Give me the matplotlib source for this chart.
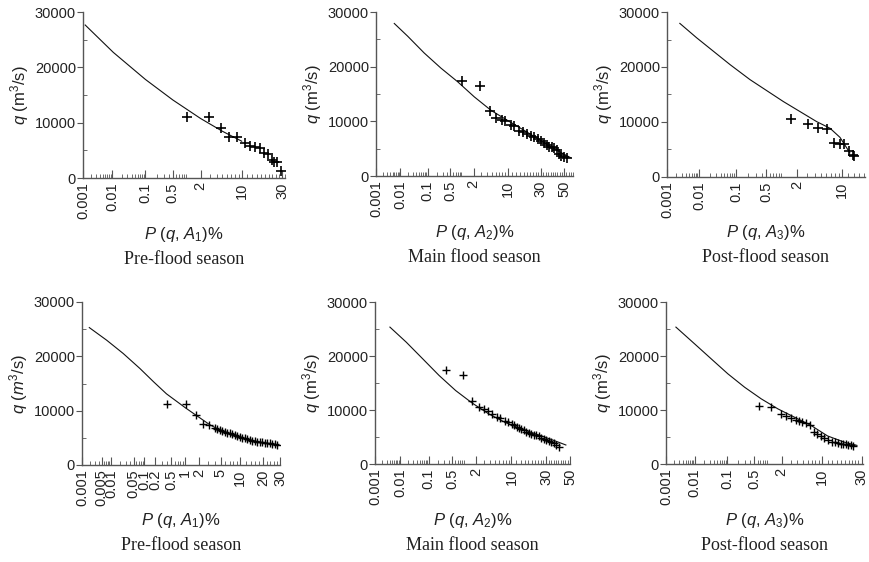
from statistics import NormalDist
import numpy as np
import matplotlib
matplotlib.use("Agg")
from matplotlib import pyplot as plt

plt.rcParams['font.family'] = ['Liberation Sans', 'DejaVu Sans']
plt.rcParams['mathtext.fontset'] = 'custom'
plt.rcParams['mathtext.rm'] = 'Liberation Sans'
plt.rcParams['mathtext.it'] = 'Liberation Sans:italic'

# ---- data (exceedance probability %, discharge m3/s) ----
# top row
pre1_pts_p = [1.03, 2.93, 4.68, 6.49, 8.61, 11.1, 13.0, 15.1, 17.4, 19.6, 21.7, 23.6, 25.2, 26.6, 29.4]
pre1_pts_q = [11080, 11080, 8980, 7360, 7360, 6380, 5780, 5660, 5370, 4570, 4340, 3250, 2950, 2950, 1320]
pre1_fit_p = [0.0012, 0.011, 0.1, 0.5, 2, 5, 10]
pre1_fit_q = [27650, 22700, 17800, 14100, 10750, 8450, 6650]

main1_pts_p = [1.03, 2.83, 4.65, 6.13, 7.86, 9.13, 11.4, 12.96, 15.5, 17.4, 20.0, 22.7, 25.0, 27.5,
               30.0, 32.7, 35.0, 37.0, 39.0, 41.3, 43.6, 45.1, 47.2, 50.2, 52.7]
main1_pts_q = [17430, 16500, 11830, 10660, 10290, 9980, 9420, 9060, 8320, 8000, 7700, 7390, 7080, 6780,
               6470, 5970, 5670, 5360, 5230, 5120, 4750, 4010, 3700, 3510, 3380]
main1_fit_p = [0.0059, 0.0196, 0.076, 0.263, 0.79, 2.09, 4.88, 10.0, 18.4, 30, 44.2, 55.6]
main1_fit_q = [27900, 25560, 22490, 19720, 17240, 14470, 12010, 10160, 8320, 6470, 4620, 3380]

post1_pts_p = [1.55, 3.09, 4.57, 6.13, 7.86, 9.37, 10.7, 12.2, 13.5, 14.1]
post1_pts_q = [10550, 9580, 8960, 8720, 6220, 5980, 5980, 4700, 3970, 3790]
post1_fit_p = [0.0026, 0.0085, 0.0255, 0.071, 0.218, 1.12, 4.32, 6.85, 9.37, 12.5]
post1_fit_q = [27930, 25310, 22870, 20430, 17700, 13720, 10060, 8850, 7200, 4390]

# bottom row
pre2_pts_p = [0.383, 1.05, 1.73, 2.41, 3.12, 3.96, 4.4, 4.84, 5.3, 5.86, 6.4, 7.04, 7.7, 8.41, 9.2, 9.96,
              10.8, 11.7, 12.7, 13.7, 14.7, 15.8, 17.0, 18.2, 19.5, 20.8, 22.2, 23.6, 25.1, 26.6, 28.3]
pre2_pts_q = [11200, 11200, 9190, 7470, 7350, 6740, 6600, 6430, 6280, 6120, 5980, 5820, 5660, 5510, 5350, 5200,
              5050, 4900, 4750, 4590, 4500, 4410, 4320, 4230, 4160, 4100, 4040, 3980, 3920, 3860, 3670]
pre2_fit_p = [0.00184, 0.0073, 0.0245, 0.076, 0.18, 0.38, 1.05, 1.78, 3.22, 5.49, 8.9, 13.7, 19.9, 27.7]
pre2_fit_q = [25290, 22960, 20520, 17760, 15300, 13100, 10500, 9100, 7400, 6120, 5200, 4590, 4100, 3670]

main2_pts_p = [0.344, 0.975, 1.61, 2.37, 2.94, 3.63, 4.36, 5.46, 6.31, 7.76, 8.86, 10.3, 11.2, 12.1, 13.2,
               14.4, 15.7, 17.0, 18.4, 19.9, 21.4, 23.0, 24.7, 26.4, 28.2, 30.1, 32.0, 33.9, 36.0, 38.0, 40.8]
main2_pts_q = [17440, 16570, 11740, 10630, 10200, 9760, 9270, 8770, 8530, 8030, 7720, 7420, 7150, 6920, 6700,
               6490, 6240, 5990, 5780, 5570, 5400, 5300, 5150, 4820, 4650, 4450, 4250, 4010, 3800, 3580, 3210]
main2_fit_p = [0.0041, 0.0171, 0.064, 0.211, 0.62, 1.61, 3.74, 7.76, 14.4, 24.1, 36.6, 46.4]
main2_fit_q = [25350, 22560, 19470, 16380, 13600, 11300, 9300, 7720, 6490, 5440, 4330, 3520]

post2_pts_p = [0.635, 1.22, 1.93, 2.49, 3.10, 3.74, 4.29, 4.90, 5.73, 6.51, 7.64, 8.58, 9.65, 10.8, 12.0,
               13.6, 15.1, 16.6, 17.8, 19.1, 20.5, 21.9, 23.3, 24.8]
post2_pts_q = [10690, 10500, 9270, 8830, 8530, 8160, 8030, 7850, 7530, 7230, 5860, 5570, 5250, 4820, 4450,
               4140, 4010, 3820, 3760, 3710, 3640, 3580, 3500, 3390]
post2_fit_p = [0.0023, 0.01, 0.0336, 0.103, 0.289, 0.73, 1.69, 3.58, 6.9, 12, 20, 27]
post2_fit_q = [25350, 22260, 19480, 16700, 14210, 12060, 10200, 8640, 7100, 5200, 4000, 3450]

ticks_std = [0.001, 0.01, 0.1, 0.5, 2, 10, 30]
ticks_main = [0.001, 0.01, 0.1, 0.5, 2, 10, 30, 50]
ticks_post = [0.001, 0.01, 0.1, 0.5, 2, 10]
ticks_dense = [0.001, 0.005, 0.01, 0.05, 0.1, 0.2, 0.5, 1, 2, 5, 10, 20, 30]

_nd = NormalDist()
_ppf = np.vectorize(_nd.inv_cdf, otypes=[float])
_cdf = np.vectorize(_nd.cdf, otypes=[float])


def prob_forward(p):
    p = np.clip(np.asarray(p, dtype=float), 1e-7, 100 - 1e-7)
    return _ppf(p / 100.0)


def prob_inverse(z):
    return _cdf(np.asarray(z, dtype=float)) * 100.0


def minor_ticks(xmax):
    vals = []
    for dec in (0.001, 0.01, 0.1):
        vals += [k * dec for k in range(1, 10)]
    vals += list(range(1, 10))
    vals += list(range(10, 60, 2))
    return [v for v in vals if v <= xmax]


def draw_panel(fig, rect, pts_p, pts_q, fit_p, fit_q, xmax, ticks, xlabel, ylabel, title, ms=7, mew=1.2):
    ax = fig.add_axes(rect)
    ax.set_xscale('function', functions=(prob_forward, prob_inverse))
    ax.plot(fit_p, fit_q, color='#111111', lw=0.8)
    ax.plot(pts_p, pts_q, ls='none', marker='+', ms=ms, mew=mew, color='black')
    ax.set_xlim(0.001, xmax)
    ax.set_ylim(0, 30000)

    ax.set_xticks(ticks)
    ax.set_xticklabels([f'{t:g}' for t in ticks], rotation=90)
    ax.set_xticks(minor_ticks(xmax), minor=True)
    ax.set_yticks([0, 10000, 20000, 30000])
    ax.set_yticks([5000, 15000, 25000], minor=True)

    for s in ('top', 'right'):
        ax.spines[s].set_visible(False)
    for s in ('left', 'bottom'):
        ax.spines[s].set_color('#555555')
        ax.spines[s].set_linewidth(1.0)
    ax.tick_params(axis='x', which='major', direction='in', length=6, color='#555555',
                   labelsize=10.5, labelcolor='#222222', pad=3)
    ax.tick_params(axis='x', which='minor', direction='in', length=3, color='#555555')
    ax.tick_params(axis='y', which='major', direction='out', length=4, color='#555555',
                   labelsize=10.5, labelcolor='#222222', pad=1)
    ax.tick_params(axis='y', which='minor', direction='in', length=3, color='#555555')

    ax.annotate(ylabel, xy=(0, 0.5), xycoords='axes fraction', xytext=(-63, 0),
                textcoords='offset pixels', rotation=90, ha='center', va='center',
                fontsize=12, color='#222222')
    ax.annotate(xlabel, xy=(0.5, 0), xycoords='axes fraction', xytext=(0, -56),
                textcoords='offset pixels', ha='center', va='center',
                fontsize=12, color='#222222')
    ax.annotate(title, xy=(0.5, 0), xycoords='axes fraction', xytext=(0, -81),
                textcoords='offset pixels', ha='center', va='center',
                fontsize=13, family='Liberation Serif', color='#222222')
    return ax


def main():
    fig = plt.figure(figsize=(8.7, 5.62), dpi=100)
    W, H = 870.0, 562.0

    def rect(x0, x1, y0, y1):
        return [x0 / W, 1 - y1 / H, (x1 - x0) / W, (y1 - y0) / H]

    yl = r'$q$ (m$^3$/s)'
    draw_panel(fig, rect(83, 285, 12, 178), pre1_pts_p, pre1_pts_q, pre1_fit_p, pre1_fit_q,
               32, ticks_std, r'$P$ ($q$, $A_1$)%', yl, 'Pre-flood season')
    draw_panel(fig, rect(376, 573, 12, 176), main1_pts_p, main1_pts_q, main1_fit_p, main1_fit_q,
               58, ticks_main, r'$P$ ($q$, $A_2$)%', yl, 'Main flood season')
    draw_panel(fig, rect(667, 865, 12, 177), post1_pts_p, post1_pts_q, post1_fit_p, post1_fit_q,
               18.6, ticks_post, r'$P$ ($q$, $A_3$)%', yl, 'Post-flood season')

    draw_panel(fig, rect(82, 280, 302, 465), pre2_pts_p, pre2_pts_q, pre2_fit_p, pre2_fit_q,
               30, ticks_dense, r'$P$ ($q$, $A_1$)%', r'$q$ ($m^3$/s)', 'Pre-flood season', ms=6, mew=1.0)
    draw_panel(fig, rect(375, 570, 302, 464), main2_pts_p, main2_pts_q, main2_fit_p, main2_fit_q,
               48, ticks_main, r'$P$ ($q$, $A_2$)%', yl, 'Main flood season', ms=6, mew=1.0)
    draw_panel(fig, rect(666, 863, 302, 464), post2_pts_p, post2_pts_q, post2_fit_p, post2_fit_q,
               31, ticks_std, r'$P$ ($q$, $A_3$)%', yl, 'Post-flood season', ms=6, mew=1.0)

    fig.savefig('out.png', dpi=100)


if __name__ == '__main__':
    main()
